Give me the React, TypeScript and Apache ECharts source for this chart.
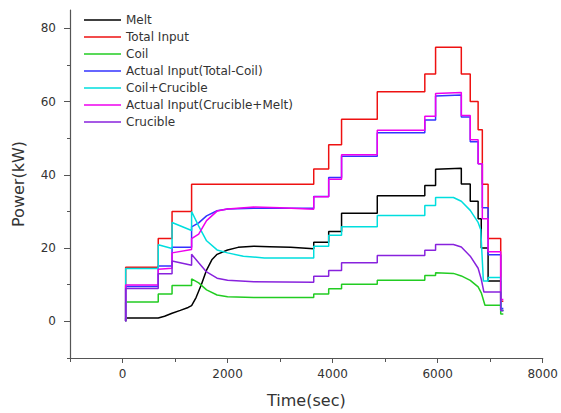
import React, { useEffect, useRef } from "react";
import * as echarts from "echarts";

// Tick values
const xMajorTicks = [0, 2000, 4000, 6000, 8000];
const xMinorTicks = [-1000, 1000, 3000, 5000, 7000];
const yMajorTicks = [0, 20, 40, 60, 80];
const yMinorTicks = [-10, 10, 30, 50, 70];

// Series names and colors
const seriesNames = [
  "Melt",
  "Total Input",
  "Coil",
  "Actual Input(Total-Coil)",
  "Coil+Crucible",
  "Actual Input(Crucible+Melt)",
  "Crucible",
];
const seriesColors = ["#000000", "#ee1111", "#22cc22", "#3333ff", "#00dede", "#ee00ee", "#8822dd"];

// Data: [time (sec), power (kW)]
const melt: [number, number][] = [
  [60, 0], [60, 0.9], [680, 0.9], [800, 1.4], [943, 2.2], [1100, 3], [1250, 3.8], [1315, 4.3],
  [1400, 6.5], [1500, 10], [1600, 14], [1700, 16.8], [1800, 18.3], [2000, 19.5], [2200, 20.2],
  [2500, 20.5], [2800, 20.4], [3200, 20.2], [3640, 19.8], [3640, 21.6], [3925, 21.6], [3925, 24.5],
  [4170, 24.5], [4170, 29.5], [4850, 29.5], [4850, 34.3], [5755, 34.3], [5755, 37.1], [5960, 37.1],
  [5960, 41.5], [6450, 41.8], [6450, 37.5], [6620, 37.5], [6620, 32.8], [6770, 32.8], [6770, 28],
  [6830, 28], [6830, 20], [6960, 20], [6960, 11], [7200, 11], [7200, 3], [7250, 3],
];
const totalInput: [number, number][] = [
  [60, 0], [60, 14.8], [680, 14.8], [680, 22.6], [943, 22.6], [943, 30], [1315, 30], [1315, 37.4],
  [3640, 37.4], [3640, 41.6], [3925, 41.6], [3925, 48.2], [4170, 48.2], [4170, 55.2], [4850, 55.2],
  [4850, 62.7], [5755, 62.7], [5755, 67.5], [5960, 67.5], [5960, 74.8], [6450, 74.8], [6450, 67.5],
  [6620, 67.5], [6620, 60], [6770, 60], [6770, 52.3], [6850, 52.3], [6850, 37.4], [6960, 37.4],
  [6960, 22.6], [7200, 22.6], [7200, 5.5], [7250, 5.5],
];
const coil: [number, number][] = [
  [60, 0], [60, 5.3], [680, 5.3], [680, 7.5], [943, 7.5], [943, 9.8], [1315, 9.8], [1315, 11.6],
  [1450, 10.5], [1600, 8.6], [1800, 7.2], [2000, 6.7], [2500, 6.5], [3640, 6.5], [3640, 7.5],
  [3925, 7.5], [3925, 8.9], [4170, 8.9], [4170, 10.1], [4850, 10.1], [4850, 11.2], [5755, 11.2],
  [5755, 12.5], [5960, 12.5], [5960, 13.3], [6300, 13.1], [6450, 12.4], [6620, 11.2], [6770, 9.4],
  [6830, 7.8], [6900, 4.4], [7200, 4.4], [7200, 2], [7250, 2],
];
const actualTotalMinusCoil: [number, number][] = [
  [60, 0], [60, 9.5], [680, 9.5], [680, 15.1], [943, 15.1], [943, 20.2], [1315, 20.2], [1315, 25.8],
  [1450, 26.9], [1600, 28.8], [1800, 30.2], [2000, 30.7], [2500, 30.9], [3640, 30.9], [3640, 34.1],
  [3925, 34.1], [3925, 39.3], [4170, 39.3], [4170, 45.1], [4850, 45.1], [4850, 51.5], [5755, 51.5],
  [5755, 55], [5960, 55], [5960, 61.5], [6450, 61.8], [6450, 55.8], [6620, 55.8], [6620, 49],
  [6770, 49], [6770, 43], [6850, 43], [6850, 31], [6960, 31], [6960, 18.2], [7200, 18.2],
  [7200, 3.5], [7250, 3.5],
];
const coilCrucible: [number, number][] = [
  [60, 0], [60, 14.4], [680, 14.4], [680, 20.9], [943, 19.9], [943, 27], [1315, 24.8], [1315, 30],
  [1450, 26], [1600, 22], [1800, 19.5], [2000, 18.7], [2300, 17.8], [2700, 17.3], [3640, 17.3],
  [3640, 20.5], [3925, 20.5], [3925, 23.5], [4170, 23.5], [4170, 25.8], [4850, 25.8], [4850, 28.9],
  [5755, 28.9], [5755, 31.6], [5960, 31.6], [5960, 33.8], [6300, 33.8], [6450, 32.8], [6620, 30.3],
  [6770, 27], [6820, 25], [6870, 11], [6960, 11], [6960, 12], [7200, 12], [7200, 3], [7250, 3],
];
const crucibleMelt: [number, number][] = [
  [60, 0], [60, 9.9], [680, 9.9], [680, 14.2], [943, 14.5], [943, 18.7], [1315, 19.6], [1315, 22.6],
  [1450, 23.8], [1600, 27.5], [1800, 30.1], [2000, 30.7], [2500, 31.2], [3000, 31], [3640, 30.6],
  [3640, 34], [3925, 34], [3925, 38.8], [4170, 38.8], [4170, 45.5], [4850, 45.5], [4850, 52.2],
  [5755, 52.2], [5755, 56], [5960, 56], [5960, 62.2], [6450, 62.5], [6450, 56.2], [6620, 56.2],
  [6620, 49.6], [6770, 49.6], [6770, 43], [6850, 43], [6850, 28], [6960, 28], [6960, 19],
  [7200, 19], [7200, 6], [7250, 6],
];
const crucible: [number, number][] = [
  [60, 0], [60, 9], [680, 9], [680, 13], [943, 13], [943, 16.5], [1315, 15.3], [1315, 18.3],
  [1450, 16], [1600, 13.5], [1800, 11.8], [2000, 11.2], [2500, 10.8], [3640, 10.7], [3640, 12.3],
  [3925, 12.3], [3925, 13.9], [4170, 13.9], [4170, 16], [4850, 16], [4850, 18], [5755, 18],
  [5755, 19.4], [5960, 19.4], [5960, 21], [6300, 21], [6450, 20.3], [6620, 17.8], [6770, 14.5],
  [6830, 11.5], [6880, 8], [7200, 8], [7200, 3], [7250, 3],
];

const seriesData = [melt, totalInput, coil, actualTotalMinusCoil, coilCrucible, crucibleMelt, crucible];

const FONT = "DejaVu Sans";

export default function App() {
  const ref = useRef<HTMLDivElement>(null);
  useEffect(() => {
    if (!ref.current) return;
    const chart = echarts.init(ref.current, undefined, { renderer: "svg" });
    const axisColor = "#555";
    const textColor = "#333";
    chart.setOption({
      animation: false,
      backgroundColor: "#fff",
      grid: { left: 70, right: 14, top: 10, bottom: 55, containLabel: false },
      legend: {
        orient: "vertical",
        left: 84,
        top: 14,
        icon: "rect",
        itemWidth: 37,
        itemHeight: 1.5,
        itemGap: 5,
        padding: 0,
        data: seriesNames,
        textStyle: { fontFamily: FONT, fontSize: 12, color: textColor, lineHeight: 12 },
      },
      xAxis: [
        {
          type: "value",
          min: -1000,
          max: 8000,
          position: "bottom",
          name: "Time(sec)",
          nameLocation: "middle",
          nameGap: 34,
          nameTextStyle: { fontFamily: FONT, fontSize: 16, color: textColor },
          axisLine: { show: true, onZero: false, lineStyle: { color: axisColor, width: 1.2 } },
          axisTick: { show: true, customValues: xMajorTicks, length: 5, lineStyle: { color: axisColor } },
          axisLabel: {
            customValues: xMajorTicks,
            margin: 10,
            fontFamily: FONT,
            fontSize: 12,
            color: textColor,
            formatter: (v: number) => String(v),
          },
          splitLine: { show: false },
        },
        {
          type: "value",
          min: -1000,
          max: 8000,
          position: "bottom",
          axisLine: { show: false, onZero: false },
          axisTick: { show: true, customValues: xMinorTicks, length: 4, lineStyle: { color: axisColor } },
          axisLabel: { show: false },
          splitLine: { show: false },
        },
      ],
      yAxis: [
        {
          type: "value",
          min: -10,
          max: 85,
          position: "left",
          name: "Power(kW)",
          nameLocation: "middle",
          nameGap: 44,
          nameTextStyle: { fontFamily: FONT, fontSize: 16, color: textColor },
          axisLine: { show: true, onZero: false, lineStyle: { color: axisColor, width: 1.2 } },
          axisTick: { show: true, customValues: yMajorTicks, length: 6, lineStyle: { color: axisColor } },
          axisLabel: {
            customValues: yMajorTicks,
            margin: 14,
            fontFamily: FONT,
            fontSize: 12,
            color: textColor,
            formatter: (v: number) => String(v),
          },
          splitLine: { show: false },
        },
        {
          type: "value",
          min: -10,
          max: 85,
          position: "left",
          axisLine: { show: false, onZero: false },
          axisTick: { show: true, customValues: yMinorTicks, length: 3, lineStyle: { color: axisColor } },
          axisLabel: { show: false },
          splitLine: { show: false },
        },
      ],
      series: seriesNames.map((name, i) => ({
        name,
        type: "line",
        xAxisIndex: 0,
        yAxisIndex: 0,
        data: seriesData[i],
        symbol: "none",
        color: seriesColors[i],
        lineStyle: { color: seriesColors[i], width: 1.5 },
      })),
    });
    return () => chart.dispose();
  }, []);
  return (
    <div
      ref={ref}
      style={{ position: "fixed", left: 0, top: 0, width: 561, height: 413 }}
    />
  );
}
